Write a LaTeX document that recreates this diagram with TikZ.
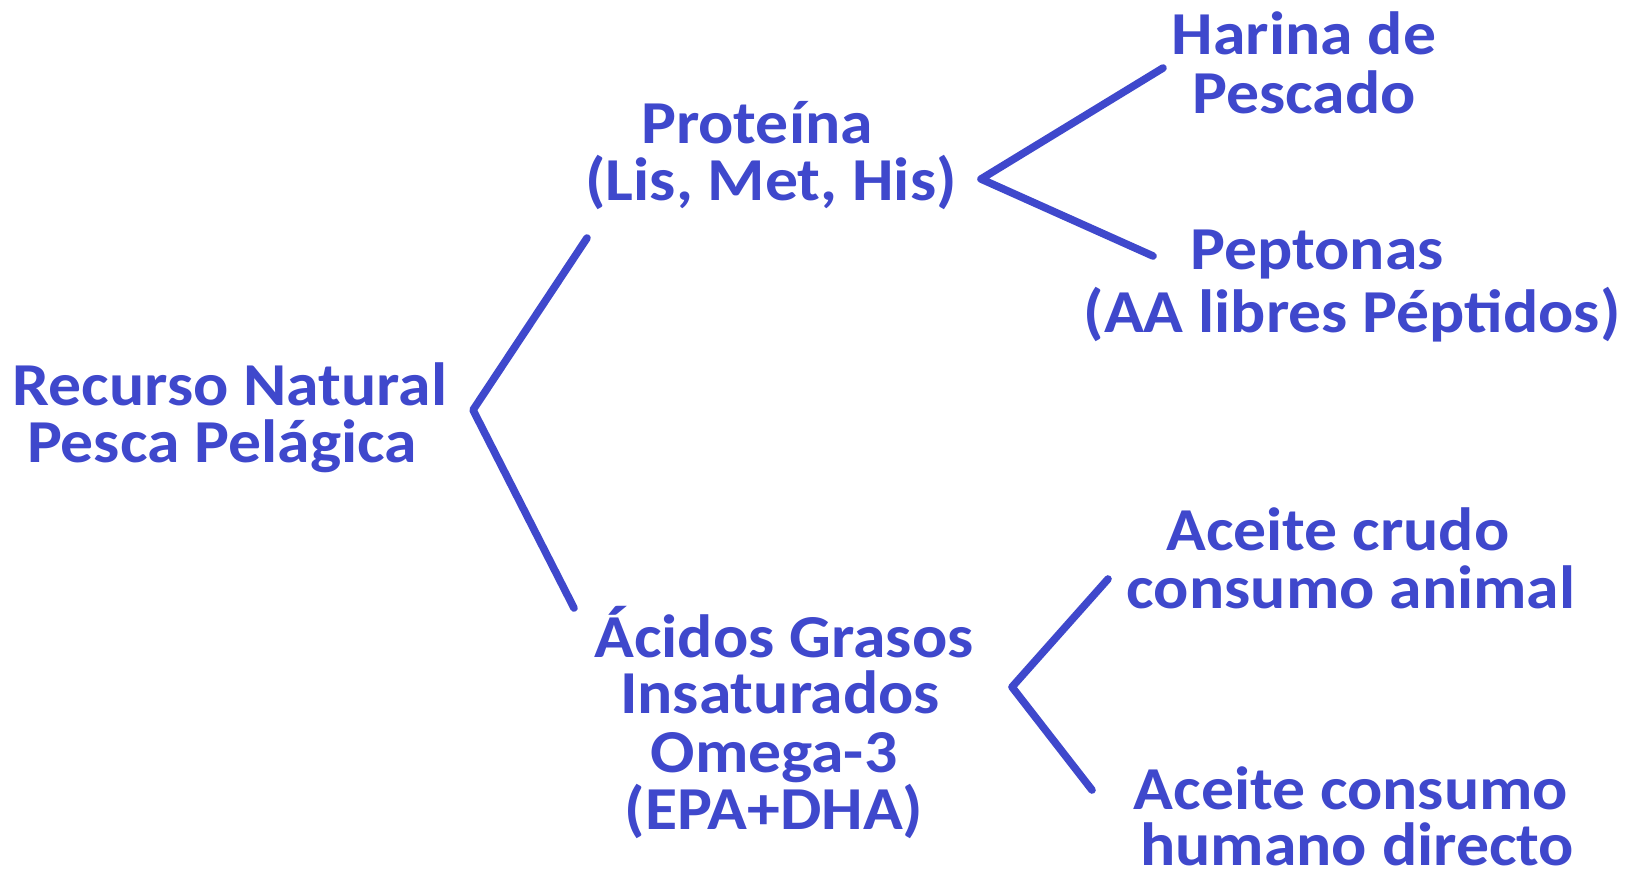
\documentclass[tikz,border=0pt]{standalone}
\usepackage{fontspec}
\setmainfont{Carlito}[FakeStretch=1.077]
\definecolor{fblue}{RGB}{63,72,204}
\begin{document}
\begin{tikzpicture}[x=0.5pt,y=-0.5pt,
  lbl/.style={font=\fontsize{30.5}{36}\selectfont\bfseries, text=fblue, inner sep=0pt, anchor=base},
  br/.style={draw=fblue, line width=3.8pt, line cap=round, line join=round}]
\useasboundingbox (0,0) rectangle (1636,880);
\fill[white] (0,0) rectangle (1636,880);
% labels
\node[lbl] (har1) at (1304,54) {Harina de};
\node[lbl] (har2) at (1304,113) {Pescado};
\node[lbl] (pro1) at (757,143) {Proteína};
\node[lbl] (pro2) at (771,200) {(Lis, Met, His)};
\node[lbl] (pep1) at (1317,269) {Peptonas};
\node[lbl] (pep2) at (1352,332) {(AA libres Péptidos)};
\node[lbl] (rec1) at (230,405) {Recurso Natural};
\node[lbl] (rec2) at (222,462) {Pesca Pelágica};
\node[lbl] (acr1) at (1338,550) {Aceite crudo};
\node[lbl] (acr2) at (1351,608) {consumo animal};
\node[lbl] (aci1) at (784,657) {Ácidos Grasos};
\node[lbl] (aci2) at (780,713) {Insaturados};
\node[lbl] (aci3) at (774,772) {Omega-3};
\node[lbl] (aci4) at (774,829) {(EPA+DHA)};
\node[lbl] (ach1) at (1351,809) {Aceite consumo};
\node[lbl] (ach2) at (1357,865) {humano directo};
% bracket coordinates
\coordinate (lv) at (473,410);
\coordinate (lt) at (587,238);
\coordinate (lb) at (574,608);
\coordinate (tv) at (981,179);
\coordinate (tt) at (1163,68);
\coordinate (tb) at (1153,256);
\coordinate (bv) at (1012,687);
\coordinate (bt) at (1108,579);
\coordinate (bb) at (1092,790);
\draw[br] (lt) -- (lv) -- (lb);
\draw[br] (tt) -- (tv) -- (tb);
\draw[br] (bt) -- (bv) -- (bb);
\end{tikzpicture}
\end{document}
